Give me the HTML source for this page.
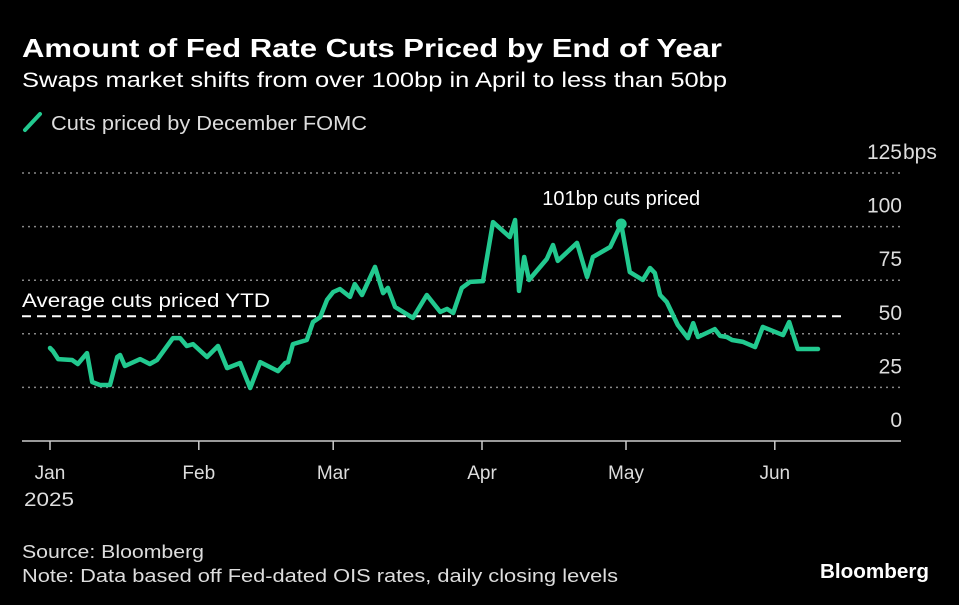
<!DOCTYPE html>
<html><head><meta charset="utf-8"><style>
html,body{margin:0;padding:0;background:#000;}
svg{display:block;font-family:"Liberation Sans",sans-serif;}
</style></head><body>
<svg id="chart" width="959" height="605" viewBox="0 0 959 605">
<rect x="0" y="0" width="959" height="605" fill="#000"/>
<text x="22" y="57" fill="#fff" font-size="26" font-weight="bold" textLength="700" lengthAdjust="spacingAndGlyphs">Amount of Fed Rate Cuts Priced by End of Year</text>
<text x="22" y="87" fill="#fff" font-size="21" textLength="705" lengthAdjust="spacingAndGlyphs">Swaps market shifts from over 100bp in April to less than 50bp</text>
<line x1="25" y1="130" x2="40" y2="114" stroke="#22c98f" stroke-width="4" stroke-linecap="round"/>
<text x="51" y="130" fill="#ddd" font-size="20" textLength="316" lengthAdjust="spacingAndGlyphs">Cuts priced by December FOMC</text>
<g id="grid"></g>
<g id="yticks"></g>
<g id="xaxis"></g>
<g id="avg"></g>
<g id="series"></g>
<text x="24" y="506" fill="#ddd" font-size="19" textLength="50" lengthAdjust="spacingAndGlyphs">2025</text>
<text x="22" y="558" fill="#ddd" font-size="18" textLength="182" lengthAdjust="spacingAndGlyphs">Source: Bloomberg</text>
<text x="22" y="582" fill="#ddd" font-size="18" textLength="596" lengthAdjust="spacingAndGlyphs">Note: Data based off Fed-dated OIS rates, daily closing levels</text>
<text x="820" y="578" fill="#fff" font-size="20" font-weight="bold" textLength="109" lengthAdjust="spacingAndGlyphs">Bloomberg</text>
</svg>
<script>
const days=[0,0.6,1.7,4.6,5.8,7.7,8.8,10.4,12.5,14,14.6,15.6,18.8,20.8,22.3,25.6,27.1,28.5,29.8,32.7,35,36.9,39.6,41.7,43.8,47.5,49,49.6,50.6,53.5,54.8,56.3,57.7,59,60.4,62.5,63.5,65,67.7,69.4,70.4,71.9,75.6,78.5,81.3,82.7,84,85.8,87.5,90.2,92.3,95.8,96.9,97.7,98.8,99.8,103.5,104.8,105.8,109.8,111.9,113.1,116.7,119,120.8,123.5,125,126,127.1,128.5,130.8,132.9,134,135,138.5,139.6,141,142.1,144.4,146.9,148.5,152.7,154,155.8,160];
const values=[43.4,42,38.2,37.8,35.9,41,27.5,26.1,26.1,39.2,40.1,35,38.2,35.9,37.8,48,48,44.3,45.2,39.2,44.3,34,36.4,24.7,36.8,32.6,36.4,36.8,45.2,47.1,55.5,57.8,65.8,69.5,70.9,67.2,73.2,68.1,81.2,69,71.4,62.5,57.4,68.1,60.2,61.6,59.7,71.4,74.2,74.6,102.1,95.1,103.1,70,85.8,75.1,84.9,91.4,84,92.4,76.5,85.8,90.5,101.2,78.8,75.1,80.7,78.4,68.1,64.8,54.1,48,55,48.5,52.2,49,48.5,47.1,46.2,43.8,53.2,49.4,55.5,42.9,42.9];
const yTicks=[0,25,50,75,100,125];
const yTickLabels=["0","25","50","75","100","125"];
const monthLabels=["Jan","Feb","Mar","Apr","May","Jun"];
const monthDays=[0,31,59,90,120,151];
const averageValue=58.2;
const peakLabel="101bp cuts priced";

const NS="http://www.w3.org/2000/svg";
const X0=50,PXD=4.8,Y0=441,PXV=2.144;
function xs(d){return X0+d*PXD;}
function ys(v){return Y0-v*PXV;}
function mk(tag,attrs,parent){const e=document.createElementNS(NS,tag);for(const k in attrs)e.setAttribute(k,attrs[k]);parent.appendChild(e);return e;}

const grid=document.getElementById('grid'),yt=document.getElementById('yticks'),xa=document.getElementById('xaxis');
yTicks.forEach((t,i)=>{
  if(t>0){
    const l=mk('line',{x1:22,x2:901,y1:ys(t),y2:ys(t),stroke:'#888','stroke-width':1.5,'stroke-dasharray':'2 4'},grid);
    
    
  }
  const tx=mk('text',{x:902,y:ys(t)-14,fill:'#ddd','font-size':21,'text-anchor':'end'},yt);
  tx.textContent=yTickLabels[i];
  
  
});
const unit=mk('text',{x:903,y:ys(125)-14,fill:'#ddd','font-size':21},yt);
unit.textContent="bps";


const ax=mk('line',{x1:22,x2:901,y1:Y0,y2:Y0,stroke:'#ccc','stroke-width':1.5},xa);


monthLabels.forEach((m,i)=>{
  const x=xs(monthDays[i]);
  const tk=mk('line',{x1:x,x2:x,y1:Y0,y2:Y0+9,stroke:'#ccc','stroke-width':1.5},xa);
  
  
  const tx=mk('text',{x:x,y:479,fill:'#ddd','font-size':19,'text-anchor':'middle'},xa);
  tx.textContent=m;
  
  
});
const avg=document.getElementById('avg');
const al=mk('line',{x1:22,x2:846,y1:ys(averageValue),y2:ys(averageValue),stroke:'#fff','stroke-width':2,'stroke-dasharray':'9 6'},avg);


const at=mk('text',{x:22,y:ys(averageValue)-9,fill:'#fff','font-size':19,textLength:248,lengthAdjust:'spacingAndGlyphs'},avg);
at.textContent="Average cuts priced YTD";



const ser=document.getElementById('series');
const pts=days.map((d,i)=>xs(d).toFixed(1)+','+ys(values[i]).toFixed(1)).join(' ');
const pl=mk('polyline',{points:pts,fill:'none',stroke:'#22c98f','stroke-width':4.5,'stroke-linejoin':'round','stroke-linecap':'round'},ser);


let ai=0;days.forEach((d,i)=>{if(d>110&&d<125&&values[i]>(ai?values[ai]:0))ai=i;});
const dot=mk('circle',{cx:xs(days[ai]),cy:ys(values[ai]),r:5.5,fill:'#22c98f'},ser);


const pt=mk('text',{x:xs(days[ai]),y:205,fill:'#fff','font-size':20,'text-anchor':'middle'},ser);
pt.textContent=peakLabel;


</script>
</body></html>
